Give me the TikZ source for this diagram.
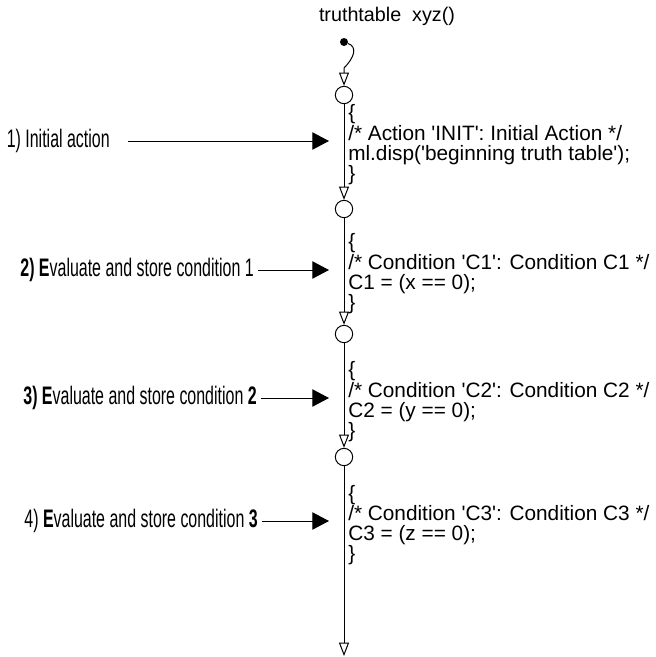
\documentclass[tikz,border=0pt]{standalone}
\usepackage{fontspec}
\setmainfont{Liberation Sans}
\newfontfamily\notefont[FakeStretch=0.63]{Liberation Sans}
\usetikzlibrary{arrows.meta}

\begin{document}
\begin{tikzpicture}[x=0.75pt,y=-0.75pt,
    junc/.style={draw,circle,line width=0.75pt,minimum size=13pt,inner sep=0pt},
    trans/.style={line width=0.75pt,-{Triangle[open,length=10pt,width=7.5pt]}},
    ptr/.style={line width=0.75pt,-{Triangle[length=12.5pt,width=13pt]},shorten >=14.25pt},
    code/.style={anchor=west,align=left,inner sep=0pt,font=\fontsize{15.6}{14.5}\selectfont},
    note/.style={anchor=east,inner sep=0pt,font=\notefont\fontsize{19}{20}\selectfont}]
  \path[use as bounding box,fill=white] (0,0) rectangle (656,657);
  % chart name and default transition
  \node[font=\fontsize{14.8}{18}\selectfont] (title) at (387,16) {truthtable\ \ xyz()};
  \node[fill,circle,inner sep=0pt,minimum size=6pt] (init) at (344,42) {};
  % junctions
  \node[junc] (j1) at (344,95) {};
  \node[junc] (j2) at (344,209) {};
  \node[junc] (j3) at (344,334) {};
  \node[junc] (j4) at (344,457) {};
  \coordinate (fin) at (344,656);
  % transition actions
  \node[code] (c1) at (348,145) {\{\\/* Action \textquotesingle INIT\textquotesingle: Initial Action */\\ml.disp(\textquotesingle beginning truth table\textquotesingle);\\\}};
  \node[code] (c2) at (348,274) {\{\\/* Condition \textquotesingle C1\textquotesingle: Condition C1 */\\C1 = (x == 0);\\\}};
  \node[code] (c3) at (348,402) {\{\\/* Condition \textquotesingle C2\textquotesingle: Condition C2 */\\C2 = (y == 0);\\\}};
  \node[code] (c4) at (348,525) {\{\\/* Condition \textquotesingle C3\textquotesingle: Condition C3 */\\C3 = (z == 0);\\\}};
  % step notes
  \node[note] (l1) at (110,141) {1) Initial action};
  \node[note] (l2) at (254,270) {\textbf{2)} \textbf{E}valuate and store condition 1};
  \node[note] (l3) at (257,398) {\textbf{3)} \textbf{E}valuate and store condition \textbf{2}};
  \node[note] (l4) at (258,521) {4) \textbf{E}valuate and store condition \textbf{3}};
  % flow
  \draw[trans] (init) .. controls (358,47) and (354,58) .. (344,68) -- (j1);
  \draw[trans] (j1) -- (j2);
  \draw[trans] (j2) -- (j3);
  \draw[trans] (j3) -- (j4);
  \draw[trans] (j4) -- (fin);
  \draw[ptr,shorten <=13.5pt] (l1.east) -- (l1.east -| c1.west);
  \draw[ptr,shorten <=3pt] (l2.east) -- (l2.east -| c2.west);
  \draw[ptr,shorten <=3pt] (l3.east) -- (l3.east -| c3.west);
  \draw[ptr,shorten <=3pt] (l4.east) -- (l4.east -| c4.west);
\end{tikzpicture}
\end{document}
